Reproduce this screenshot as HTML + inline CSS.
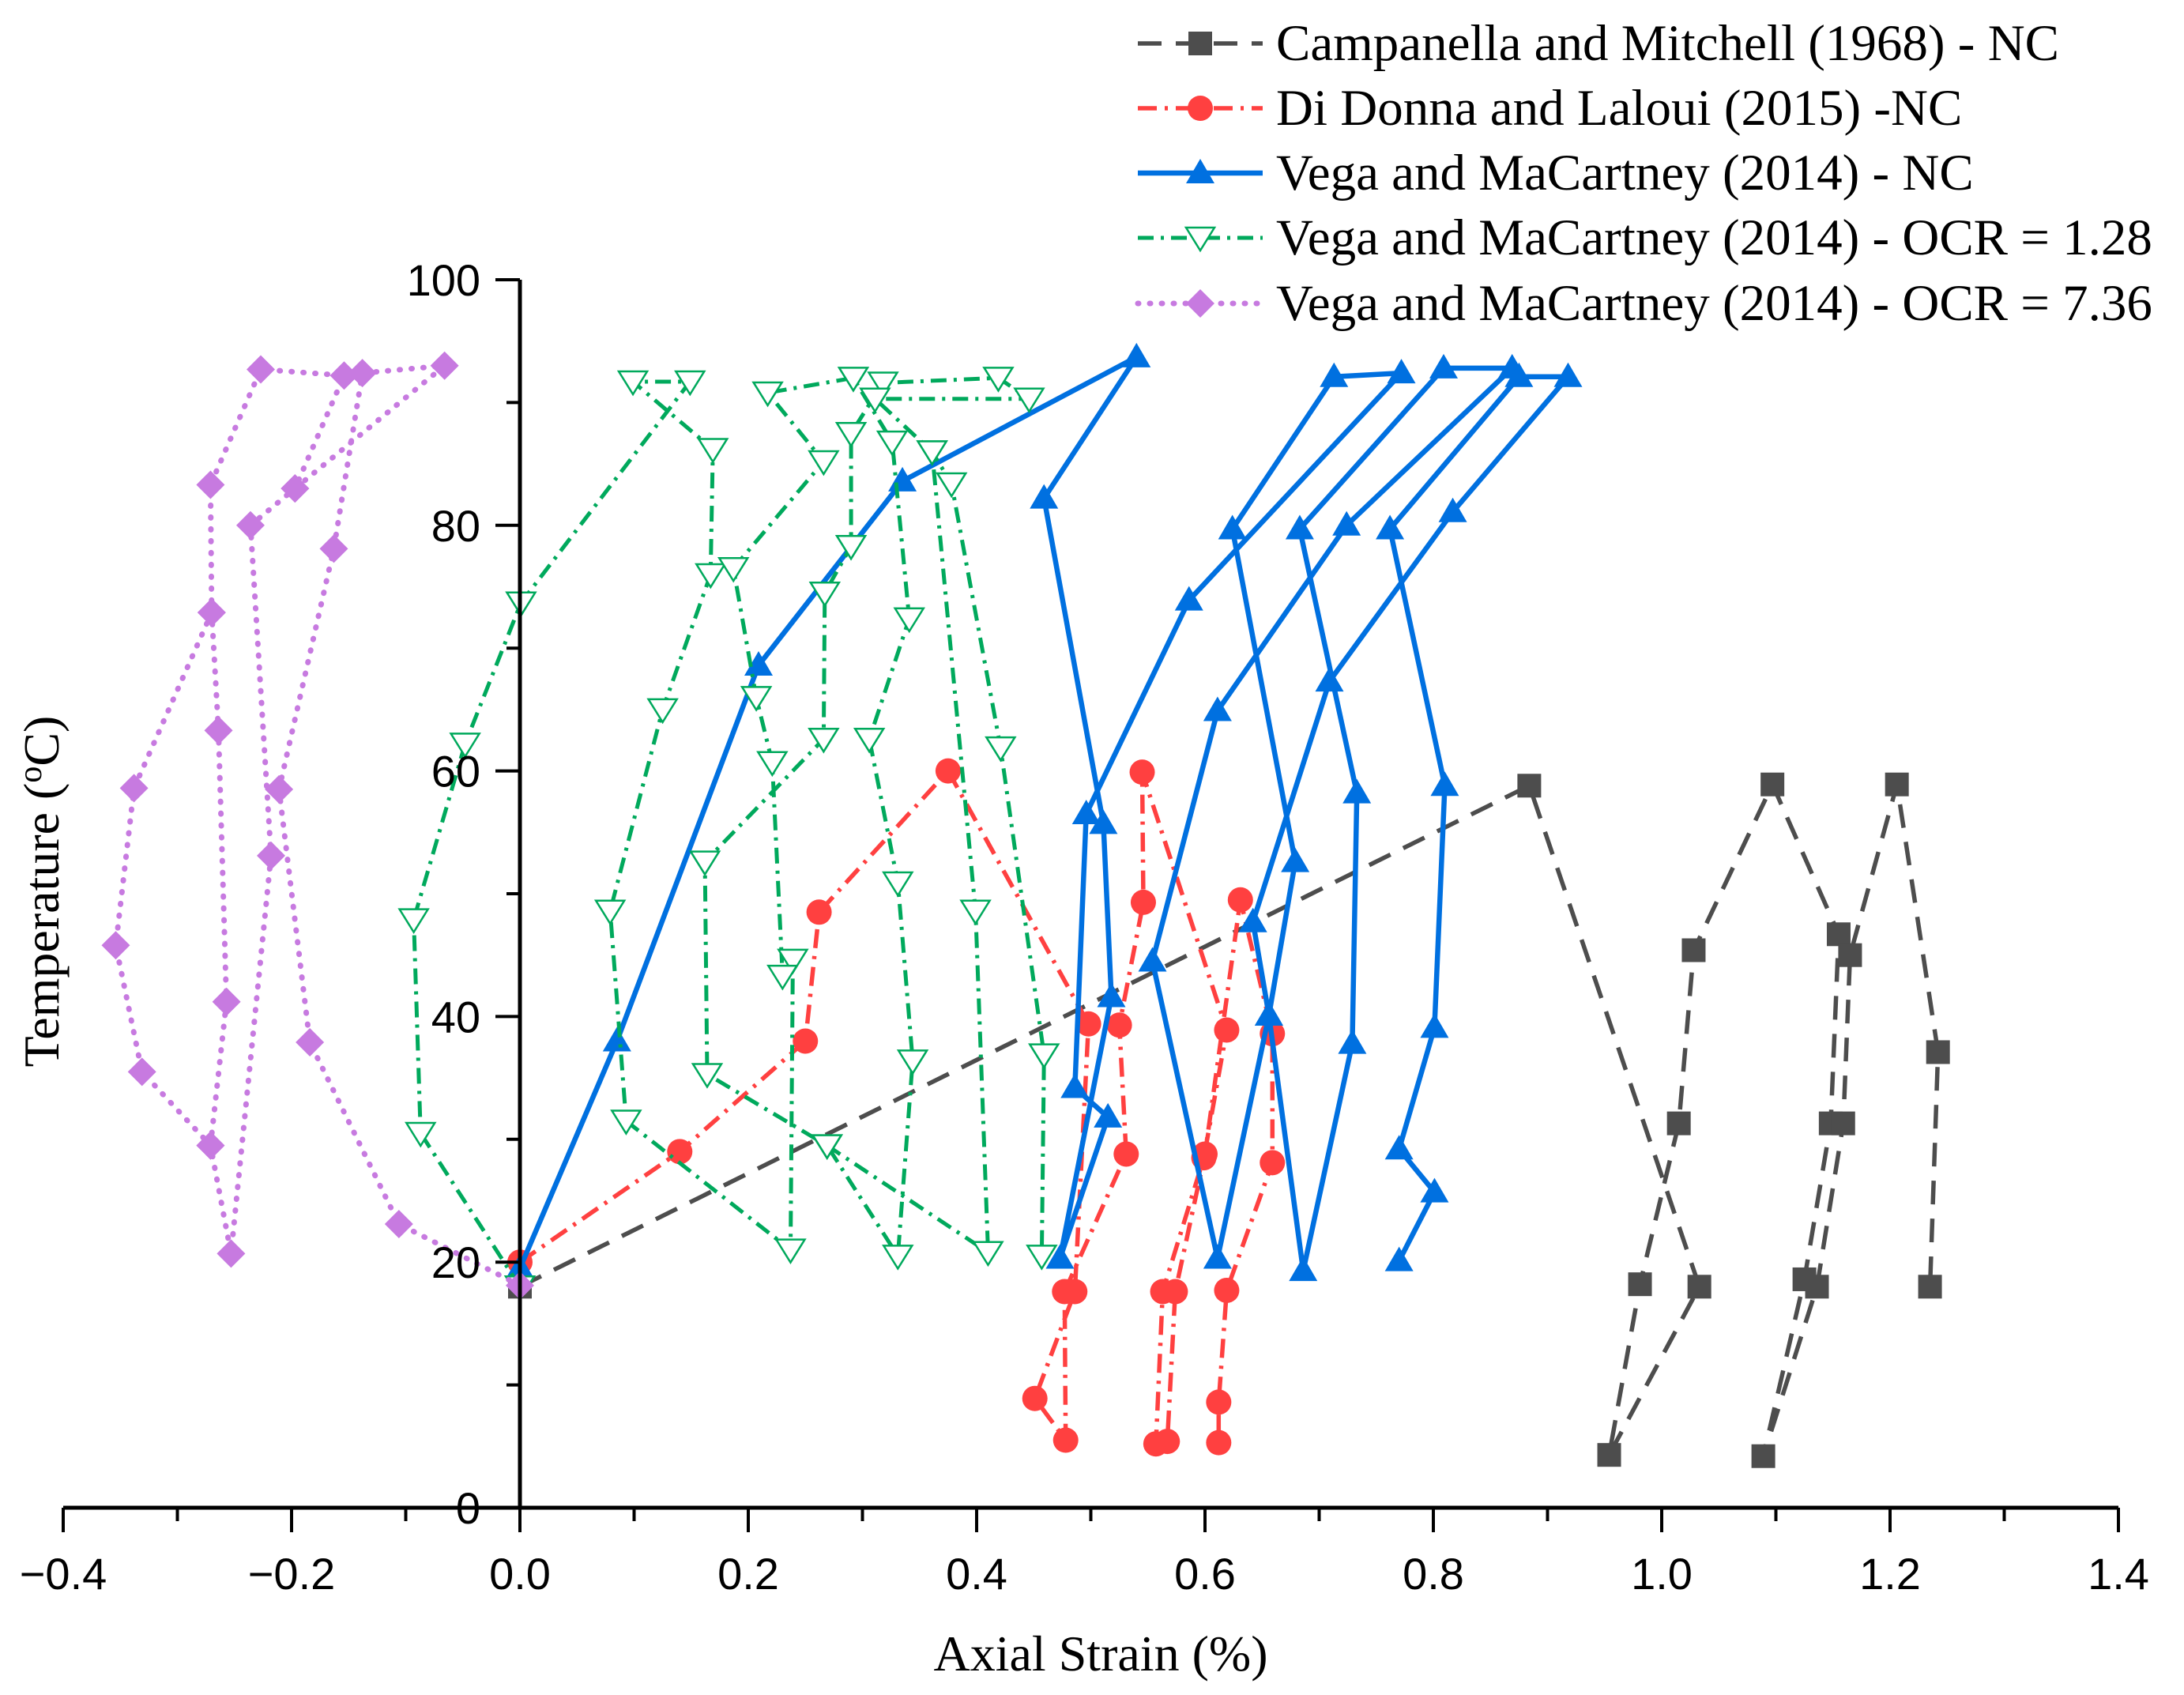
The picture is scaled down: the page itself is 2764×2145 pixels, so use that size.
<!DOCTYPE html>
<html><head><meta charset="utf-8"><style>
html,body{margin:0;padding:0;background:#fff;}
svg{display:block;}
</style></head><body>
<svg id="chart" width="2764" height="2145" viewBox="0 0 2764 2145" xmlns="http://www.w3.org/2000/svg">
<g id="plot"></g>
<g id="axes"></g>
<g id="legend"></g>
<text x="1393" y="2114" text-anchor="middle" font-family="Liberation Serif, serif" font-size="64">Axial Strain (%)</text>
<text transform="translate(74,1128) rotate(-90)" text-anchor="middle" font-family="Liberation Serif, serif" font-size="64">Temperature (<tspan font-size="42" dy="-22">o</tspan><tspan dy="22">C)</tspan></text>
</svg>
<script>
// ---- data ----
const xTicks = [-0.4,-0.2,0.0,0.2,0.4,0.6,0.8,1.0,1.2,1.4];
const xTickLabels = ["\u22120.4","\u22120.2","0.0","0.2","0.4","0.6","0.8","1.0","1.2","1.4"];
const yTicks = [0,20,40,60,80,100];
const yTickLabels = ["0","20","40","60","80","100"];
const seriesNames = ["Campanella and Mitchell (1968) - NC","Di Donna and Laloui (2015) -NC","Vega and MaCartney (2014) - NC","Vega and MaCartney (2014) - OCR = 1.28","Vega and MaCartney (2014) - OCR = 7.36"];

const campX = [0,0.884,1.033,0.954,0.981,1.015,1.028,1.097,1.155,1.148,1.125,1.089,1.136,1.159,1.165,1.206,1.242,1.235];
const campY = [18,58.8,18.0,4.3,18.2,31.3,45.4,58.9,46.7,31.3,18.6,4.2,18.0,31.3,45.0,58.9,37.1,18.0];

const donX = [0,0.14,0.25,0.262,0.375,0.498,0.486,0.451,0.478,0.477,0.531,0.525,0.546,0.545,0.619,0.599,0.563,0.557,0.567,0.574,0.60,0.631,0.659,0.659,0.619,0.612,0.612];
const donY = [20,29,38,48.5,60,39.4,17.6,8.9,5.5,17.6,28.8,39.3,49.3,59.9,38.9,28.5,17.6,5.2,5.4,17.6,28.8,49.5,38.6,28.1,17.7,8.6,5.3];

const vegaX = [0,0.085,0.209,0.335,0.540,0.459,0.511,0.518,0.473,0.515,0.486,0.496,0.586,0.772,0.713,0.624,0.679,0.656,0.686,0.729,0.733,0.683,0.809,0.869,0.724,0.611,0.554,0.611,0.656,0.642,0.709,0.817,0.918,0.875,0.762,0.810,0.801,0.770,0.801,0.770];
const vegaY = [19.5,38,68.6,83.6,93.7,82.2,55.7,41.6,20.3,31.8,34.2,56.5,73.9,92.4,92.1,79.7,52.6,40.1,19.3,37.8,58.2,79.7,92.8,92.8,80.0,64.9,44.5,20.3,40.1,47.7,67.3,81.1,92.1,92.1,79.7,58.8,39.1,29.2,25.7,20.1];

const ocr1X = [0,-0.087,-0.093,-0.048,0.001,0.149,0.099,0.169,0.167,0.125,0.079,0.093,0.237,0.239,0.230,0.221,0.207,0.187,0.266,0.217,0.292,0.326,0.341,0.306,0.331,0.344,0.331,0.269,0.164,0.162,0.266,0.267,0.290,0.290,0.318,0.419,0.446,0.311,0.361,0.378,0.421,0.459,0.457,null,0.269,0.410,0.399,0.361];
const ocr1Y = [18,30.5,47.9,62.2,73.7,91.7,91.7,86.2,76.0,65.0,48.6,31.5,21.0,44.6,43.3,60.7,66.0,76.5,85.2,90.8,92.0,86.8,72.4,62.6,50.9,36.4,20.5,29.5,35.3,52.6,62.6,74.5,78.3,87.5,91.6,92.0,90.3,90.3,86.0,83.4,61.9,36.9,20.5,null,29.5,20.8,48.6,86.0];

const ocr7X = [0,-0.106,-0.184,-0.211,-0.163,-0.138,-0.066,-0.197,-0.236,-0.218,-0.253,-0.271,-0.257,-0.264,-0.270,-0.271,-0.227,-0.154,-0.197,null,-0.270,-0.338,-0.354,-0.331,-0.271];
const ocr7Y = [18.1,23.1,37.9,58.5,78.1,92.4,93.0,83.0,80.0,53.1,20.7,29.5,41.2,63.3,72.9,83.3,92.7,92.2,83.0,null,72.9,58.6,45.8,35.5,29.5];

// ---- scales ----
const X0 = 80, X1 = 2681, XMIN = -0.4, XMAX = 1.4;
const Y0 = 1908, Y1 = 354, YMIN = 0, YMAX = 100;
function sx(v){ return X0 + (v - XMIN) / (XMAX - XMIN) * (X1 - X0); }
function sy(v){ return Y0 - (v - YMIN) / (YMAX - YMIN) * (Y0 - Y1); }

const NS = "http://www.w3.org/2000/svg";
function mk(tag, attrs, parent){
  const e = document.createElementNS(NS, tag);
  for (const k in attrs) e.setAttribute(k, attrs[k]);
  parent.appendChild(e);
  return e;
}
const plot = document.getElementById('plot');
const axes = document.getElementById('axes');
const legend = document.getElementById('legend');

const styles = [
  {color:'#4d4d4d', dash:'30 18', width:5.5, marker:'square'},
  {color:'#ff4040', dash:'24 10 4 10', width:5.5, marker:'circle'},
  {color:'#0070e0', dash:'', width:6.5, marker:'tri'},
  {color:'#00a95c', dash:'20 9 4 9', width:5, marker:'tridown'},
  {color:'#c77ae0', dash:'1 14', width:7, marker:'diamond'}
];
const allX = [campX, donX, vegaX, ocr1X, ocr7X];
const allY = [campY, donY, vegaY, ocr1Y, ocr7Y];
const keys = ['campanella','di-donna','vega-nc','vega-ocr128','vega-ocr736'];

function marker(type, cx, cy, color, parent){
  let e;
  if (type === 'square') e = mk('rect', {x:cx-15, y:cy-15, width:30, height:30, fill:color}, parent);
  else if (type === 'circle') e = mk('circle', {cx:cx, cy:cy, r:16, fill:color}, parent);
  else if (type === 'tri') e = mk('polygon', {points:`${cx},${cy-18} ${cx+18},${cy+13} ${cx-18},${cy+13}`, fill:color}, parent);
  else if (type === 'tridown') e = mk('polygon', {points:`${cx-18},${cy-13} ${cx+18},${cy-13} ${cx},${cy+16}`, fill:'#fff', stroke:color, 'stroke-width':2.5}, parent);
  else e = mk('polygon', {points:`${cx},${cy-18} ${cx+18},${cy} ${cx},${cy+18} ${cx-18},${cy}`, fill:color}, parent);
  return e;
}

for (let i = 0; i < 5; i++){
  const st = styles[i];
  const g = mk('g', {}, plot);
  
  
  let d = '', pen = false;
  const xs = allX[i], ys = allY[i];
  for (let j = 0; j < xs.length; j++){
    if (xs[j] === null){ pen = false; continue; }
    d += (pen ? 'L' : 'M') + sx(xs[j]).toFixed(1) + ' ' + sy(ys[j]).toFixed(1) + ' ';
    pen = true;
  }
  const p = mk('path', {d:d, fill:'none', stroke:st.color, 'stroke-width':st.width, 'stroke-linejoin':'round', 'stroke-linecap': i===4 ? 'round' : 'butt'}, g);
  if (st.dash) p.setAttribute('stroke-dasharray', st.dash);
  
  
  for (let j = 0; j < xs.length; j++){
    if (xs[j] === null) continue;
    const m = marker(st.marker, sx(xs[j]), sy(ys[j]), st.color, g);
    
    
  }
}

// axes
const xl = mk('line', {x1:X0, y1:Y0, x2:X1, y2:Y0, stroke:'#000', 'stroke-width':5}, axes);


const yl = mk('line', {x1:sx(0), y1:Y0+2, x2:sx(0), y2:Y1, stroke:'#000', 'stroke-width':5}, axes);


for (let i = 0; i < xTicks.length; i++){
  const x = sx(xTicks[i]);
  const t = mk('line', {x1:x, y1:Y0, x2:x, y2:Y0+31, stroke:'#000', 'stroke-width':4}, axes);
  
  
  if (i < xTicks.length - 1){
    const xm = sx((xTicks[i] + xTicks[i+1]) / 2);
    const tm = mk('line', {x1:xm, y1:Y0, x2:xm, y2:Y0+17, stroke:'#000', 'stroke-width':4}, axes);
    
    
  }
  const lb = mk('text', {x:x, y:2011, 'text-anchor':'middle', 'font-family':'Liberation Sans, sans-serif', 'font-size':56}, axes);
  lb.textContent = xTickLabels[i];
  
  
}
const yx = sx(0);
for (let i = 0; i < yTicks.length; i++){
  const y = sy(yTicks[i]);
  const t = mk('line', {x1:yx-31, y1:y, x2:yx, y2:y, stroke:'#000', 'stroke-width':4}, axes);
  
  
  if (i < yTicks.length - 1){
    const ym = sy((yTicks[i] + yTicks[i+1]) / 2);
    const tm = mk('line', {x1:yx-17, y1:ym, x2:yx, y2:ym, stroke:'#000', 'stroke-width':4}, axes);
    
    
  }
  const lb = mk('text', {x:yx-50, y:y+20, 'text-anchor':'end', 'font-family':'Liberation Sans, sans-serif', 'font-size':56}, axes);
  lb.textContent = yTickLabels[i];
  
  
}

// legend
const rowY = [55, 137, 219, 301, 384];
for (let i = 0; i < 5; i++){
  const st = styles[i];
  const g = mk('g', {}, legend);
  
  
  const ln = mk('line', {x1:1440, y1:rowY[i], x2:1598, y2:rowY[i], stroke:st.color, 'stroke-width':st.width, 'stroke-linecap': i===4 ? 'round' : 'butt'}, g);
  if (st.dash) ln.setAttribute('stroke-dasharray', st.dash);
  
  
  const m = marker(st.marker, 1519, rowY[i], st.color, g);
  
  
  const tx = mk('text', {x:1615, y:rowY[i]+21, 'font-family':'Liberation Serif, serif', 'font-size':65}, g);
  tx.textContent = seriesNames[i];
  
  
}
</script>
</body></html>
